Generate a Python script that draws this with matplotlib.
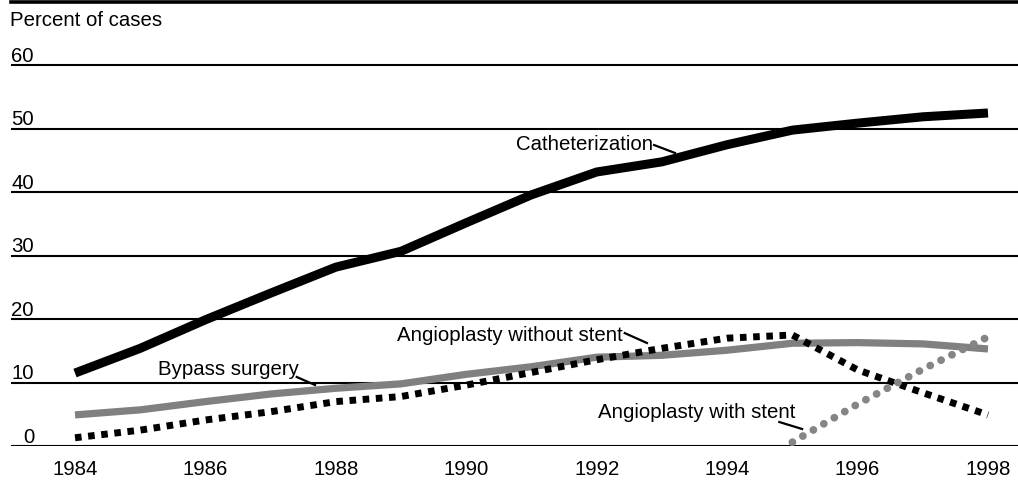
import matplotlib
matplotlib.use("Agg")
import matplotlib.pyplot as plt
from matplotlib import transforms

plt.rcParams['font.family'] = ['Liberation Sans', 'DejaVu Sans']

years = list(range(1984, 1999))
catheterization = [11.5, 15.4, 19.9, 24.1, 28.2, 30.7, 35.2, 39.6, 43.2, 44.8, 47.5, 49.8, 50.9, 51.9, 52.5]
bypass = [4.9, 5.7, 7.0, 8.2, 9.1, 9.8, 11.3, 12.5, 14.0, 14.3, 15.1, 16.2, 16.3, 16.1, 15.3]
without_stent = [1.3, 2.5, 4.1, 5.4, 7.0, 7.8, 9.6, 11.6, 13.6, 15.4, 17.0, 17.5, 12.0, 8.4, 4.9]
stent_years = [1995, 1996, 1997, 1998]
with_stent = [0.6, 6.6, 12.1, 17.2]

y_ticks = [0, 10, 20, 30, 40, 50, 60]
x_ticks = [1984, 1986, 1988, 1990, 1992, 1994, 1996, 1998]

FS = 14.7
W, H = 1018, 491
fig = plt.figure(figsize=(W / 100, H / 100), dpi=100)
ax = fig.add_axes([11 / W, (H - 446) / H, (W - 11) / W, 444 / H])
ax.set_xlim(1984 - 64 / 65.21, 1998 + 30 / 65.21)
ax.set_ylim(0, 70)
for s in ax.spines.values():
    s.set_visible(False)

for v in y_ticks:
    ax.axhline(v, color='black', lw=1.5, zorder=1)
ax.axhline(70, color='black', lw=2.6, zorder=1, clip_on=False)

trans = transforms.blended_transform_factory(ax.transAxes, ax.transData)
for v in y_ticks:
    ax.text(23 / 1007, v + 0.55, str(v), transform=trans, ha='right', va='baseline', fontsize=FS)

ax.set_yticks([])
ax.set_xticks(x_ticks)
ax.set_xticklabels([str(x) for x in x_ticks], fontsize=FS)
ax.tick_params(axis='x', length=0, pad=10)

fig.text(10 / W, 1 - 20 / H, 'Percent of cases', fontsize=FS, va='center', ha='left')

ax.plot(years, catheterization, color='black', lw=6.5, solid_joinstyle='round', solid_capstyle='butt', zorder=3)
ax.plot(years, bypass, color='#808080', lw=5.2, solid_joinstyle='round', solid_capstyle='butt', zorder=3)
ax.plot(years, without_stent, color='black', lw=5.0, dashes=(0.95, 0.95), dash_capstyle='butt', zorder=4)
ax.plot(stent_years, with_stent, color='#858585', lw=5.6, dashes=(0.01, 1.55), dash_capstyle='round', zorder=5)

labels = [
    ('Catheterization', 1990.76, 47.5, (1992.88, 47.45), (1993.2, 46.2)),
    ('Bypass surgery', 1985.27, 12.06, (1987.40, 10.88), (1987.68, 9.62)),
    ('Angioplasty without stent', 1988.94, 17.42, (1992.43, 17.8), (1992.77, 16.24)),
    ('Angioplasty with stent', 1992.02, 5.28, (1994.80, 3.78), (1995.15, 2.68)),
]
for txt, x, y, p1, p2 in labels:
    ax.text(x, y, txt, fontsize=FS, ha='left', va='center', zorder=6)
    ax.plot([p1[0], p2[0]], [p1[1], p2[1]], color='black', lw=1.6, zorder=6)

fig.savefig('out.png', dpi=100)
